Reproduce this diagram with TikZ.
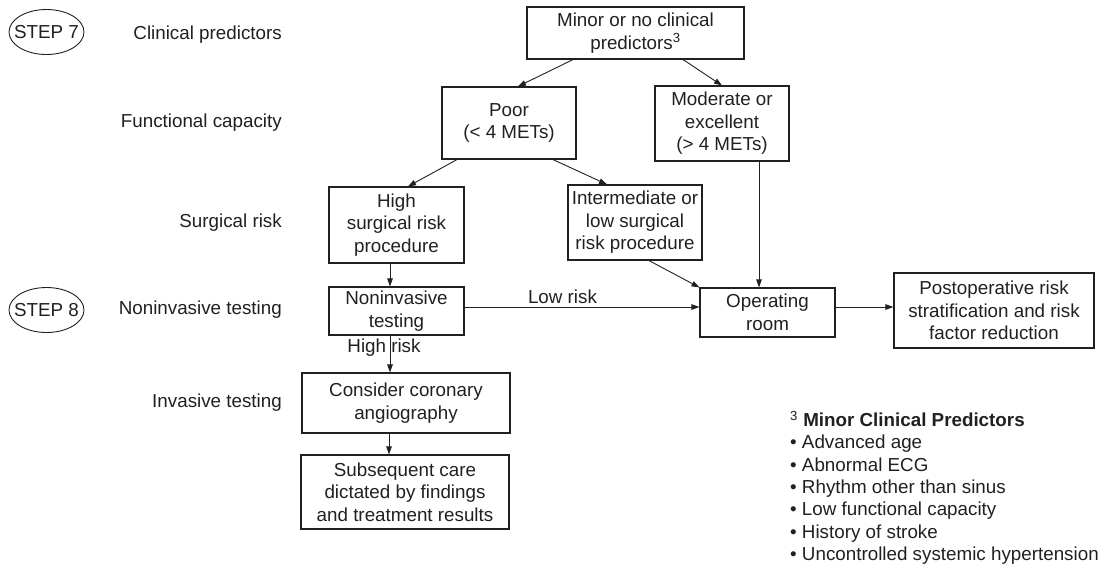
\documentclass[tikz,border=0pt]{standalone}
\usepackage{fontspec}
\setmainfont{Liberation Sans}
\usetikzlibrary{arrows.meta,calc}
\definecolor{ink}{RGB}{35,31,32}
\tikzset{
  txt/.style={font=\fontsize{18.8}{22.5}\selectfont, text=ink, inner sep=0pt, align=center},
  box/.style={txt, draw=ink, line width=1.1pt},
  rowlab/.style={txt, anchor=east},
  arr/.style={draw=ink, line width=0.9pt, -{Triangle[length=8pt,width=5.5pt]}},
}
\begin{document}
\begin{tikzpicture}[x=1pt,y=-1pt]
\useasboundingbox (0,0) rectangle (1106,566);
% step ellipses
\node[txt] (s7) at (46.5,32) {STEP 7};
\draw[ink, line width=0.9pt] (s7.center) ellipse [x radius=37.5, y radius=22.5];
\node[txt] (s8) at (46.5,310) {STEP 8};
\draw[ink, line width=0.9pt] (s8.center) ellipse [x radius=37.5, y radius=22.5];
% row labels
\node[rowlab] (l1) at (282,35) {Clinical predictors};
\node[rowlab] (l2) at (282,123) {Functional capacity};
\node[rowlab] (l3) at (282,223) {Surgical risk};
\node[rowlab] (l4) at (282,310) {Noninvasive testing};
\node[rowlab] (l5) at (282,403) {Invasive testing};
% boxes
\node[box, minimum width=217, minimum height=52] (minor) at (635.5,33) {Minor or no clinical\\predictors\textsuperscript{3}};
\node[box, minimum width=134, minimum height=72] (poor) at (509,123) {Poor\\(< 4 METs)};
\node[box, minimum width=134, minimum height=75] (mod) at (722,123.5) {Moderate or\\excellent\\(> 4 METs)};
\node[box, minimum width=135, minimum height=76] (high) at (396.5,225) {High\\surgical risk\\procedure};
\node[box, minimum width=134, minimum height=75] (inter) at (635,222.5) {Intermediate or\\low surgical\\risk procedure};
\node[box, minimum width=135, minimum height=48] (nonin) at (396.5,311) {Noninvasive\\testing};
\node[box, minimum width=135, minimum height=49] (oper) at (767.5,312.5) {Operating\\room};
\node[box, minimum width=200, minimum height=75] (post) at (994,310.5) {Postoperative risk\\stratification and risk\\factor reduction};
\node[box, minimum width=208, minimum height=60] (cons) at (406,403) {Consider coronary\\angiography};
\node[box, minimum width=208, minimum height=74] (subs) at (405,492) {Subsequent care\\dictated by findings\\and treatment results};
% connectors
\draw[arr] ([xshift=-62.5]minor.south) -- ([xshift=9]poor.north);
\draw[arr] ([xshift=47.5]minor.south) -- (mod.north);
\draw[arr] ([xshift=-52]poor.south) -- ([xshift=11.5]high.north);
\draw[arr] ([xshift=44]poor.south) -- ([xshift=-28]inter.north);
\draw[arr] ([xshift=14]inter.south) -- (oper.north west);
\draw[arr] ([xshift=37]mod.south) -- ([xshift=37]mod.south |- oper.north);
\draw[arr] ([xshift=-6.5]high.south) -- ([xshift=-6.5]high.south |- nonin.north);
\draw[arr] ([yshift=4]nonin.east) -- ([yshift=4]nonin.east -| oper.west);
\draw[arr] ([yshift=5.5]oper.east) -- ([yshift=5.5]oper.east -| post.west);
\draw[arr] ([xshift=-6.5]nonin.south) -- ([xshift=-6.5]nonin.south |- cons.north);
\draw[arr] ([xshift=-17]cons.south) -- ([xshift=-17]cons.south |- subs.north);
\node[txt] (lowrisk) at (562.5,297) {Low risk};
\node[txt] (highrisk) at (384,348) {High risk};
% legend
\node[txt, anchor=north west, align=left, font=\fontsize{18.8}{22.3}\selectfont] (legend) at (790,411)
  {\textsuperscript{3} \textbf{Minor Clinical Predictors}\\
   • Advanced age\\
   • Abnormal ECG\\
   • Rhythm other than sinus\\
   • Low functional capacity\\
   • History of stroke\\
   • Uncontrolled systemic hypertension};
\end{tikzpicture}
\end{document}
